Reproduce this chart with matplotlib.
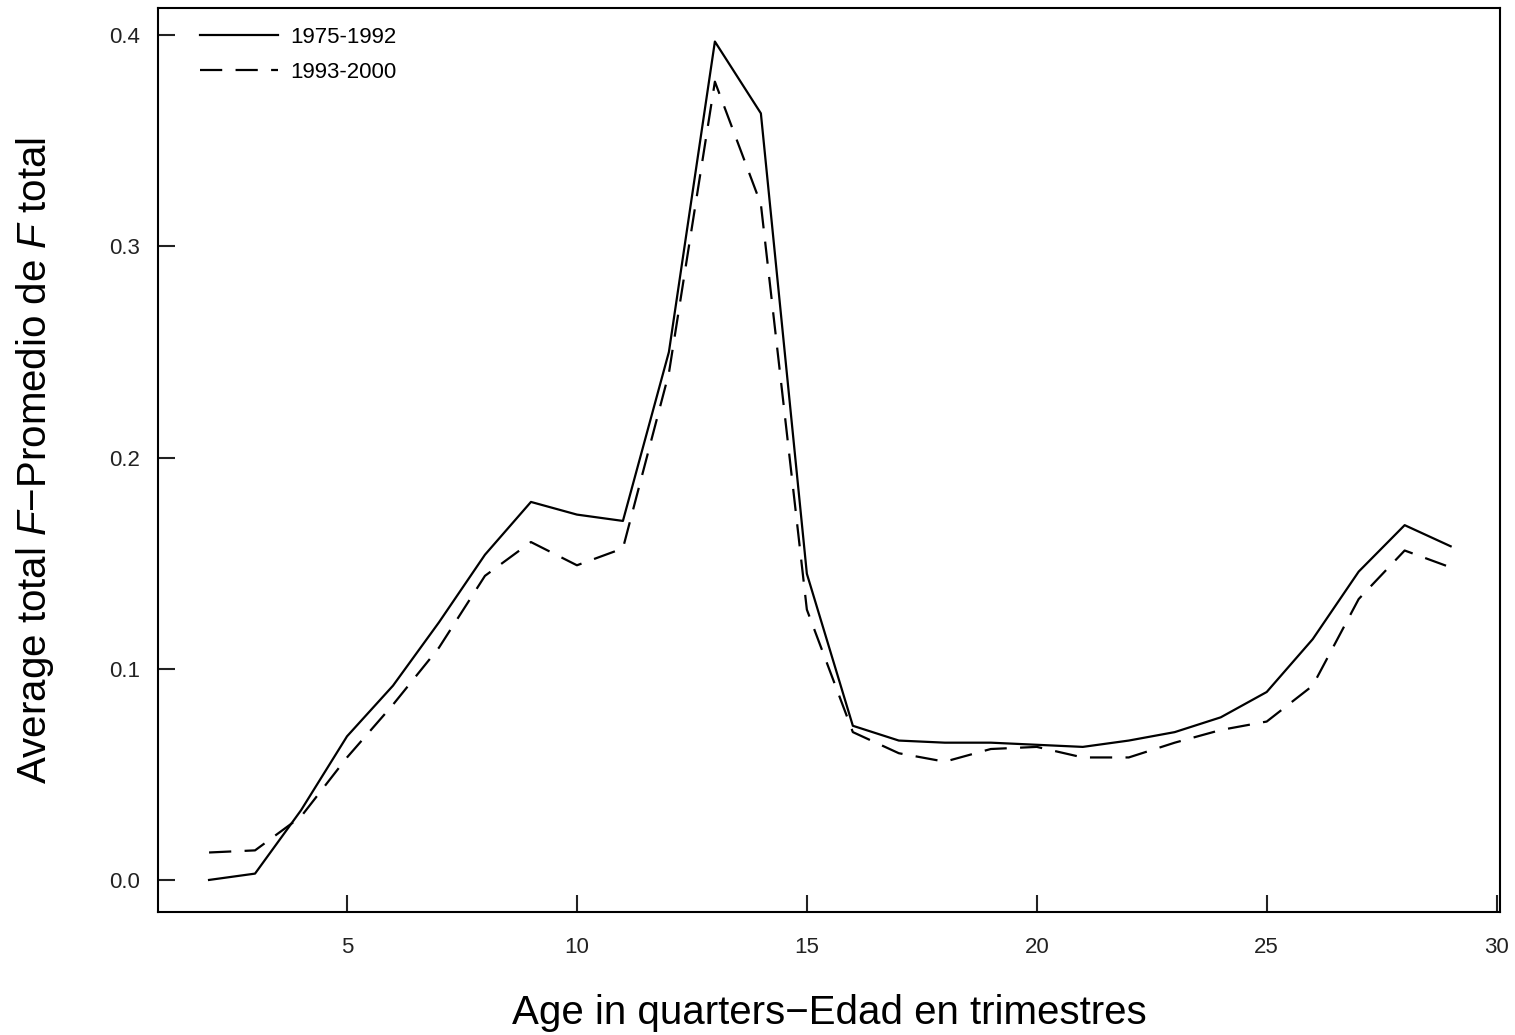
import matplotlib
matplotlib.use("Agg")
import matplotlib.pyplot as plt

plt.rcParams['font.family'] = ['Liberation Sans', 'DejaVu Sans']
plt.rcParams['mathtext.fontset'] = 'custom'
plt.rcParams['mathtext.rm'] = 'Liberation Sans'
plt.rcParams['mathtext.it'] = 'Liberation Sans:italic'

ages = list(range(2, 30))
f_1975_1992 = [0.000, 0.003, 0.033, 0.068, 0.092, 0.122, 0.154, 0.179, 0.173, 0.170,
               0.250, 0.397, 0.363, 0.145, 0.073, 0.066, 0.065, 0.065, 0.064, 0.063,
               0.066, 0.070, 0.077, 0.089, 0.114, 0.146, 0.168, 0.158]
f_1993_2000 = [0.013, 0.014, 0.030, 0.058, 0.083, 0.110, 0.144, 0.160, 0.149, 0.157,
               0.240, 0.378, 0.320, 0.128, 0.070, 0.060, 0.056, 0.062, 0.063, 0.058,
               0.058, 0.065, 0.071, 0.075, 0.092, 0.133, 0.156, 0.148]
series_labels = ['1975-1992', '1993-2000']
xticks = [5, 10, 15, 20, 25, 30]
yticks = [0.0, 0.1, 0.2, 0.3, 0.4]

fig = plt.figure(figsize=(15.15, 10.35), dpi=100)
ax = fig.add_axes([0.1043, 0.1188, 0.8857, 0.8735])

ax.plot(ages, f_1975_1992, color='black', lw=1.6, label=series_labels[0])
ax.plot(ages, f_1993_2000, color='black', lw=1.6, dashes=(10, 6), label=series_labels[1])

ax.set_xlim(0.89, 30.07)
ax.set_ylim(-0.0152, 0.4129)
ax.set_xticks(xticks)
ax.set_yticks(yticks)
ax.set_yticklabels([f"{v:.1f}" for v in yticks])
ax.tick_params(direction='in', length=12, width=1.5, labelsize=16, pad=13, colors='#222222')
ax.tick_params(axis='x', pad=18)

for s in ax.spines.values():
    s.set_linewidth(1.5)

ax.set_xlabel('Age in quarters\u2212Edad en trimestres', fontsize=29, labelpad=26)
ax.set_ylabel('Average total $F$\u2212Promedio de $F$ total', fontsize=29, labelpad=38)

ax.legend(loc='upper left', frameon=False, fontsize=16, handlelength=3.5,
          handletextpad=0.55, labelspacing=0.63, borderpad=0, borderaxespad=0,
          bbox_to_anchor=(200 / 1515, 1 - 27 / 1035), bbox_transform=fig.transFigure)

fig.savefig('out.png', dpi=100)
